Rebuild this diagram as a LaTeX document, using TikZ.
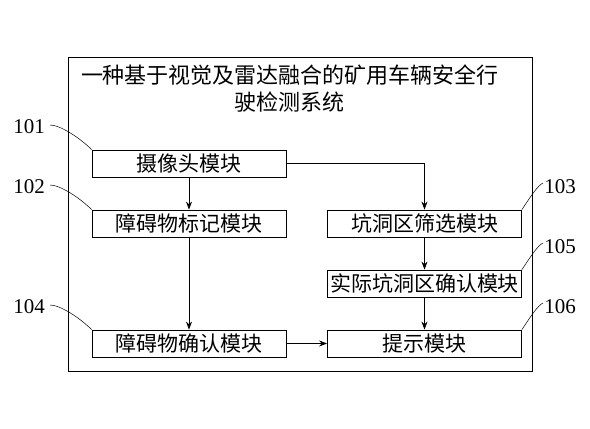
\documentclass[tikz,border=0pt]{standalone}
\usepackage{fontspec}
\setmainfont{Liberation Serif}
\newfontfamily\cjk{Noto Sans CJK SC}
\usetikzlibrary{arrows.meta}
\begin{document}
\begin{tikzpicture}[x=1pt,y=-1pt]
\useasboundingbox (0,0) rectangle (590,429);
\tikzset{
  mod/.style={draw, line width=0.8pt, minimum width=194pt, minimum height=27pt, inner sep=0pt, font=\cjk\fontsize{21}{21}\selectfont},
  arr/.style={line width=0.8pt, -{Stealth[length=8pt,width=6pt]}},
  lead/.style={line width=0.5pt},
  num/.style={font=\fontsize{21}{21}\selectfont, inner sep=0pt}
}
\node[draw, line width=0.8pt, minimum width=464pt, minimum height=314pt, inner sep=0pt] (frame) at (300,214) {};
\node[font=\cjk\fontsize{22}{27}\selectfont, align=center, inner sep=0pt] (title) at (290,88.5) {一种基于视觉及雷达融合的矿用车辆安全行\\驶检测系统};

\node[mod] (b101) at (189,163.5) {摄像头模块};
\node[mod] (b102) at (189,223.5) {障碍物标记模块};
\node[mod] (b103) at (424.5,223.5) {坑洞区筛选模块};
\node[mod] (b105) at (424.5,283.5) {实际坑洞区确认模块};
\node[mod] (b104) at (189,343.5) {障碍物确认模块};
\node[mod] (b106) at (424.5,343.5) {提示模块};

\draw[arr] (b101) -- (b102);
\draw[arr] (b101.east) -| (b103.north);
\draw[arr] (b102) -- (b104);
\draw[arr] (b103) -- (b105);
\draw[arr] (b105) -- (b106);
\draw[arr] (b104) -- (b106);

\node[num] (n101) at (29,127) {101};
\node[num] (n102) at (29,187) {102};
\node[num] (n104) at (29,307) {104};
\node[num] (n103) at (560,187) {103};
\node[num] (n105) at (560,247) {105};
\node[num] (n106) at (560,307) {106};

\coordinate (c101) at (50,125);
\coordinate (c102) at (50,185);
\coordinate (c104) at (50,305);
\coordinate (c103) at (543,183);
\coordinate (c105) at (543,243);
\coordinate (c106) at (543,303);

\draw[lead] (c101) .. controls +(10,0) and +(-12,-12) .. (b101.north west);
\draw[lead] (c102) .. controls +(10,0) and +(-12,-12) .. (b102.north west);
\draw[lead] (c104) .. controls +(10,0) and +(-12,-12) .. (b104.north west);
\draw[lead] (b103.north east) .. controls +(8,-12) and +(-5,2) .. (c103);
\draw[lead] (b105.north east) .. controls +(8,-12) and +(-5,2) .. (c105);
\draw[lead] (b106.north east) .. controls +(8,-12) and +(-5,2) .. (c106);
\end{tikzpicture}
\end{document}
